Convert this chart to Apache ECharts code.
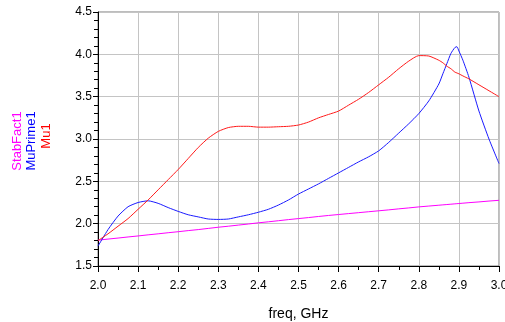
<!DOCTYPE html>
<html>
<head>
<meta charset="utf-8">
<script src="https://cdn.jsdelivr.net/npm/echarts@6/dist/echarts.min.js"></script>
<style>
  html, body { margin: 0; padding: 0; background: #ffffff; }
  #chart { width: 505px; height: 322px; }
</style>
</head>
<body>
<div id="chart"></div>
<script>
// frequency points (GHz)
var freq = [2.000, 2.025, 2.050, 2.075, 2.100, 2.125, 2.150, 2.175, 2.200, 2.225,
  2.250, 2.275, 2.300, 2.325, 2.350, 2.375, 2.400, 2.425, 2.450, 2.475,
  2.500, 2.525, 2.550, 2.575, 2.600, 2.625, 2.650, 2.675, 2.700, 2.725,
  2.750, 2.775, 2.800, 2.825, 2.850, 2.860, 2.870, 2.880, 2.890, 2.895,
  2.900, 2.910, 2.925, 2.950, 2.975, 3.000];

var stabFact1 = [1.805, 1.818, 1.830, 1.843, 1.855, 1.868, 1.880, 1.893, 1.905, 1.918,
  1.930, 1.944, 1.958, 1.970, 1.983, 1.996, 2.010, 2.022, 2.035, 2.048,
  2.060, 2.072, 2.085, 2.097, 2.108, 2.119, 2.130, 2.141, 2.152, 2.163,
  2.175, 2.186, 2.198, 2.208, 2.218, 2.222, 2.226, 2.230, 2.234, 2.236,
  2.238, 2.242, 2.248, 2.257, 2.267, 2.276];

var muPrime1 = [1.735, 1.93, 2.09, 2.20, 2.25, 2.27, 2.24, 2.19, 2.145, 2.105,
  2.08, 2.055, 2.05, 2.055, 2.08, 2.105, 2.135, 2.17, 2.22, 2.28,
  2.35, 2.41, 2.47, 2.535, 2.60, 2.665, 2.73, 2.79, 2.86, 2.96,
  3.07, 3.18, 3.30, 3.45, 3.65, 3.77, 3.89, 4.01, 4.08, 4.09,
  4.04, 3.93, 3.73, 3.33, 3.00, 2.71];

var mu1 = [1.80, 1.88, 1.97, 2.06, 2.17, 2.28, 2.40, 2.52, 2.64, 2.77,
  2.90, 3.01, 3.09, 3.135, 3.15, 3.15, 3.14, 3.14, 3.145, 3.15,
  3.165, 3.20, 3.25, 3.29, 3.33, 3.40, 3.47, 3.55, 3.64, 3.73,
  3.83, 3.92, 3.985, 3.98, 3.93, 3.90, 3.86, 3.83, 3.79, 3.78,
  3.77, 3.745, 3.71, 3.64, 3.57, 3.50];

var axisFont = 'Liberation Sans, Arial, sans-serif';

function pairs(values) {
  return freq.map(function (f, i) { return [f, values[i]]; });
}

var chart = echarts.init(document.getElementById('chart'), null, { renderer: 'canvas' });

chart.setOption({
  animation: false,
  backgroundColor: '#ffffff',
  grid: {
    left: 98,
    right: 6,
    top: 12,
    bottom: 56,
    outerBoundsMode: 'none',
    containLabel: false,
    show: true,
    borderColor: '#7a7a7a',
    borderWidth: 1
  },
  xAxis: {
    type: 'value',
    min: 2.0,
    max: 3.0,
    interval: 0.1,
    name: 'freq, GHz',
    nameLocation: 'middle',
    nameGap: 41,
    nameTextStyle: { fontFamily: axisFont, fontSize: 14, color: '#000' },
    axisLine: { show: true, onZero: false, lineStyle: { color: '#000', width: 1 } },
    axisTick: { show: true, length: 6, lineStyle: { color: '#000' } },
    minorTick: { show: true, splitNumber: 2, length: 4, lineStyle: { color: '#000' } },
    axisLabel: {
      margin: 14,
      fontFamily: axisFont,
      fontSize: 12,
      color: '#000',
      formatter: function (v) { return v.toFixed(1); }
    },
    splitLine: { show: true, lineStyle: { color: '#c4c4c4', width: 1 } }
  },
  yAxis: {
    type: 'value',
    min: 1.5,
    max: 4.5,
    interval: 0.5,
    axisLine: { show: true, onZero: false, lineStyle: { color: '#000', width: 1 } },
    axisTick: { show: true, length: 5, lineStyle: { color: '#000' } },
    minorTick: { show: true, splitNumber: 5, length: 4, lineStyle: { color: '#000' } },
    axisLabel: {
      margin: 6,
      fontFamily: axisFont,
      fontSize: 12,
      color: '#000',
      formatter: function (v) { return v.toFixed(1); }
    },
    splitLine: { show: true, lineStyle: { color: '#c4c4c4', width: 1 } }
  },
  graphic: [
    {
      type: 'text', x: 17, y: 141, rotation: Math.PI / 2,
      style: { text: 'StabFact1', fill: '#ff00ff', font: '13px ' + axisFont, align: 'center', verticalAlign: 'middle' }
    },
    {
      type: 'text', x: 31, y: 141, rotation: Math.PI / 2,
      style: { text: 'MuPrime1', fill: '#0000ff', font: '13px ' + axisFont, align: 'center', verticalAlign: 'middle' }
    },
    {
      type: 'text', x: 46, y: 136, rotation: Math.PI / 2,
      style: { text: 'Mu1', fill: '#ff0000', font: '13px ' + axisFont, align: 'center', verticalAlign: 'middle' }
    }
  ],
  series: [
    {
      name: 'StabFact1',
      type: 'line',
      data: pairs(stabFact1),
      showSymbol: false,
      lineStyle: { color: '#ff00ff', width: 1 }
    },
    {
      name: 'MuPrime1',
      type: 'line',
      data: pairs(muPrime1),
      showSymbol: false,
      smooth: 0.2,
      lineStyle: { color: '#1a1aff', width: 1 }
    },
    {
      name: 'Mu1',
      type: 'line',
      data: pairs(mu1),
      showSymbol: false,
      smooth: 0.2,
      lineStyle: { color: '#ff1a1a', width: 1 }
    }
  ]
});
</script>
</body>
</html>
